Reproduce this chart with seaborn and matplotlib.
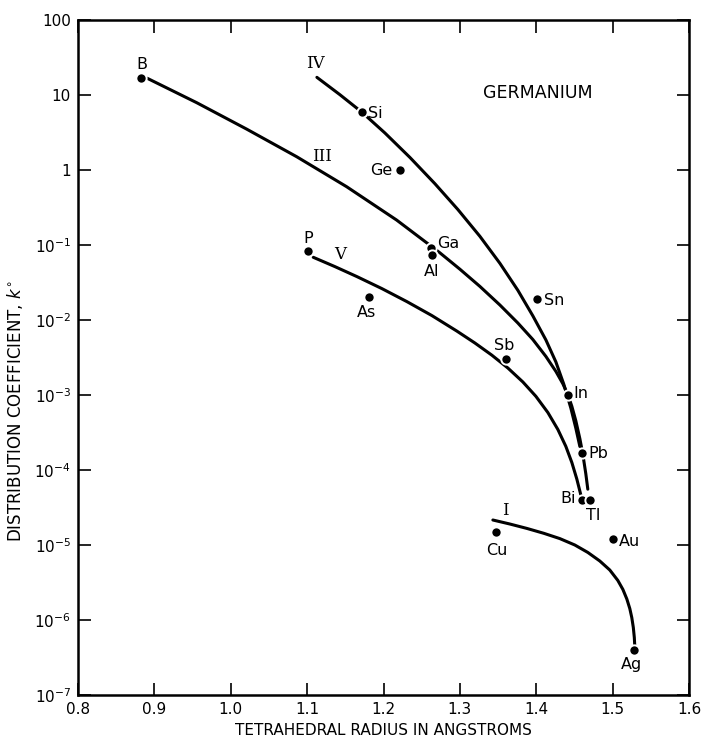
import numpy as np
import pandas as pd
import matplotlib
matplotlib.use("Agg")
import matplotlib.pyplot as plt
import seaborn as sns
from matplotlib.ticker import FixedLocator, FixedFormatter, NullLocator

# Measured distribution coefficients of impurities in germanium
elements = ["B", "Si", "Ge", "Ga", "Al", "P", "As", "Sn", "Sb", "In", "Pb", "Bi", "Tl", "Cu", "Au", "Ag"]
radius = [0.882, 1.172, 1.222, 1.262, 1.263, 1.101, 1.181, 1.401, 1.361, 1.441, 1.460, 1.460, 1.471, 1.347, 1.500, 1.528]
k0 = [17.0, 5.9, 1.0, 0.092, 0.073, 0.083, 0.020, 0.019, 0.0030, 0.0010, 1.7e-4, 4.0e-5, 4.0e-5, 1.5e-5, 1.2e-5, 4.0e-7]

# Hand-drawn trend curves for each group of the periodic table
group_iii_r = [0.8907, 0.9554, 1.0208, 1.0863, 1.1517, 1.2171, 1.2564, 1.2738, 1.3000, 1.3262,
               1.3524, 1.3759, 1.3955, 1.4126, 1.4257, 1.4348, 1.4414, 1.4466, 1.4518, 1.4571,
               1.4610, 1.4649, 1.4675]
group_iii_k = [16.70, 7.90, 3.51, 1.504, 0.599, 0.2154, 0.1073, 0.0787, 0.0476, 0.02805,
               0.01585, 0.00912, 0.00550, 0.00327, 0.002064, 0.001415, 0.001009, 7.07e-4, 4.54e-4, 2.615e-4,
               1.619e-4, 8.90e-5, 5.55e-5]

group_iv_r = [1.1128, 1.1429, 1.1717, 1.2018, 1.2346, 1.2673, 1.2974, 1.3262, 1.3524, 1.3759,
              1.3955, 1.4126, 1.4257, 1.4361, 1.4453, 1.4518, 1.4571]
group_iv_k = [17.2, 10.1, 5.90, 3.12, 1.47, 0.657, 0.297, 0.1306, 0.0570, 0.0249,
              0.01138, 0.00543, 0.00276, 0.001389, 6.69e-4, 3.62e-4, 2.06e-4]

group_v_r = [1.1080, 1.1364, 1.1652, 1.1979, 1.2306, 1.2634, 1.2961, 1.3196, 1.3419, 1.3628,
             1.3825, 1.3995, 1.4152, 1.4283, 1.4387, 1.4466, 1.4531, 1.4584]
group_v_k = [0.0686, 0.0515, 0.0379, 0.02622, 0.01759, 0.01145, 0.00711, 0.00494, 0.003395, 0.002291,
             0.001491, 9.61e-4, 5.84e-4, 3.47e-4, 2.07e-4, 1.259e-4, 7.59e-5, 4.64e-5]

group_i_r = [1.3432, 1.3654, 1.3877, 1.4099, 1.4309, 1.4505, 1.4675, 1.4832, 1.4963, 1.5068,
             1.5134, 1.5186, 1.5225, 1.5251, 1.5271, 1.5284, 1.5291]
group_i_k = [2.154e-5, 1.905e-5, 1.664e-5, 1.432e-5, 1.217e-5, 1.0e-5, 7.96e-6, 6.12e-6, 4.64e-6, 3.37e-6,
             2.56e-6, 1.905e-6, 1.419e-6, 1.076e-6, 7.94e-7, 5.84e-7, 4.30e-7]

group_names = ["I", "III", "IV", "V"]
group_label_r = [1.359, 1.119, 1.111, 1.143]
group_label_k = [2.9e-5, 1.50, 26.0, 0.074]

x_ticks = [0.8, 0.9, 1.0, 1.1, 1.2, 1.3, 1.4, 1.5, 1.6]
x_tick_labels = ["0.8", "0.9", "1.0", "1.1", "1.2", "1.3", "1.4", "1.5", "1.6"]
y_ticks = [1e-7, 1e-6, 1e-5, 1e-4, 1e-3, 1e-2, 1e-1, 1, 10, 100]
y_tick_labels = ["$10^{-7}$", "$10^{-6}$", "$10^{-5}$", "$10^{-4}$", "$10^{-3}$",
                 "$10^{-2}$", "$10^{-1}$", "1", "10", "100"]

# label offsets in pixels (dx, dy) and horizontal alignment for every element
label_offsets = {
    "B": (1, 13, "center"), "Si": (6, -1, "left"), "Ge": (-8, 0, "right"),
    "Ga": (6, 4, "left"), "Al": (0, -16, "center"), "P": (0, 13, "center"),
    "As": (-2, -15, "center"), "Sn": (7, -1, "left"), "Sb": (-2, 14, "center"),
    "In": (6, 2, "left"), "Pb": (6, -1, "left"), "Bi": (-6, 1, "right"),
    "Tl": (-4, -16, "left"), "Cu": (1, -19, "center"), "Au": (6, -2, "left"),
    "Ag": (-3, -15, "center"),
}

sns.set_theme(style="ticks")
plt.rcParams["font.family"] = ["DejaVu Sans"]
plt.rcParams["mathtext.fontset"] = "dejavusans"

fig = plt.figure(figsize=(7.01, 7.40), dpi=100)
ax = fig.add_axes([78 / 701, 45 / 740, (689 - 78) / 701, (720 - 45) / 740])
ax.set_yscale("log")

curves = [
    (group_iii_r, group_iii_k),
    (group_iv_r, group_iv_k),
    (group_v_r, group_v_k),
    (group_i_r, group_i_k),
]
for r, k in curves:
    sns.lineplot(x=r, y=k, ax=ax, color="black", linewidth=2.2, sort=False,
                 estimator=None, legend=False)

pts = pd.DataFrame({"element": elements, "radius": radius, "k0": k0})
sns.scatterplot(data=pts, x="radius", y="k0", ax=ax, color="black", s=55,
                edgecolor="white", linewidth=1.4, zorder=5, legend=False)

for el, r, k in zip(elements, radius, k0):
    dx, dy, ha = label_offsets[el]
    ax.annotate(el, (r, k), xytext=(dx, dy), textcoords="offset pixels",
                ha=ha, va="center", fontsize=11.5, color="black")

for name, r, k in zip(group_names, group_label_r, group_label_k):
    ax.text(r, k, name, ha="center", va="center", fontsize=12,
            family="DejaVu Serif", color="black")

ax.text(1.402, 10.6, "GERMANIUM", ha="center", va="center", fontsize=12.5, color="black")

ax.set_xlim(0.8, 1.6)
ax.set_ylim(1e-7, 100)
ax.xaxis.set_major_locator(FixedLocator(x_ticks))
ax.xaxis.set_major_formatter(FixedFormatter(x_tick_labels))
ax.yaxis.set_major_locator(FixedLocator(y_ticks))
ax.yaxis.set_major_formatter(FixedFormatter(y_tick_labels))
ax.yaxis.set_minor_locator(NullLocator())
ax.xaxis.set_minor_locator(NullLocator())

ax.tick_params(axis="both", which="major", direction="in", length=9, width=1.2,
               top=True, right=True, labelsize=11, colors="black", pad=5)
for side in ["left", "right", "top", "bottom"]:
    ax.spines[side].set_visible(True)
    ax.spines[side].set_linewidth(1.8)
    ax.spines[side].set_color("black")

ax.set_xlabel("TETRAHEDRAL RADIUS IN ANGSTROMS", fontsize=11, color="black")
ax.set_ylabel("DISTRIBUTION COEFFICIENT, $k^{\\circ}$", fontsize=12, color="black")
ax.xaxis.set_label_coords(0.5, -0.042)
ax.yaxis.set_label_coords(-0.086, 0.42)
ax.set_facecolor("white")
fig.patch.set_facecolor("white")

fig.savefig("out.png", dpi=100)
